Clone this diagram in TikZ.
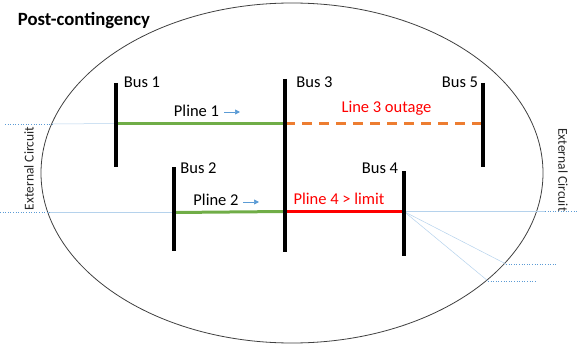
\documentclass[tikz,border=0pt]{standalone}
\usepackage{fontspec}
\setmainfont{Carlito}
\usetikzlibrary{arrows.meta}
\definecolor{busgreen}{RGB}{112,173,71}
\definecolor{outorange}{RGB}{237,125,49}
\definecolor{extblue}{RGB}{91,155,213}
\definecolor{ellgray}{RGB}{64,64,64}
\tikzset{
  busbar/.style={line width=3.5pt, black},
  greenline/.style={line width=3pt, busgreen},
  outline/.style={line width=3pt, outorange, dash pattern=on 10pt off 7pt},
  redline/.style={line width=3pt, red},
  extsolid/.style={line width=0.5pt, extblue!45},
  extdot/.style={line width=0.6pt, extblue, dotted},
  lbl/.style={font=\fontsize{16.5}{18}\selectfont, inner sep=0pt},
  flowarrow/.style={line width=0.7pt, extblue, -{Triangle[length=5pt,width=5pt]}},
  extlbl/.style={font=\fontsize{13.5}{15}\selectfont, inner sep=0pt, text=black!85}
}
\begin{document}
\begin{tikzpicture}[x=1pt,y=-1pt]
\useasboundingbox (0,0) rectangle (579,345);
% boundary
\draw[ellgray, line width=0.8pt] (292,173) ellipse [x radius=251, y radius=170];
% title
\node[font=\fontsize{18.7}{20}\selectfont\bfseries, inner sep=0pt] (title) at (84,21) {Post-contingency};
% bus coordinates
\coordinate (b1t) at (116,83); \coordinate (b1b) at (116,167);
\coordinate (b2t) at (174,167); \coordinate (b2b) at (174,251);
\coordinate (b3t) at (285,79); \coordinate (b3b) at (285,252);
\coordinate (b4t) at (404,171); \coordinate (b4b) at (404,256);
\coordinate (b5t) at (483,83); \coordinate (b5b) at (483,167);
% line endpoints on buses
\coordinate (p1a) at (116,123.5); \coordinate (p1b) at (285,123.5);
\coordinate (p3b) at (483,123.5);
\coordinate (p2a) at (174,212.5); \coordinate (p2b) at (285,211.5);
\coordinate (p4b) at (404,211.5);
% external connections
\coordinate (eL1d) at (5,124); \coordinate (eL1s) at (52,124);
\coordinate (eL2d) at (0,212.5); \coordinate (eL2s) at (50,212.5);
\coordinate (eR1s) at (545,211.5); \coordinate (eR1d) at (579,211.5);
\coordinate (eR2s) at (506,264); \coordinate (eR2d) at (556,264);
\coordinate (eR3s) at (488,281); \coordinate (eR3d) at (536,281);
\draw[extdot] (eL1d) -- (eL1s);
\draw[extsolid] (eL1s) -- (p1a);
\draw[extdot] (eL2d) -- (eL2s);
\draw[extsolid] (eL2s) -- (p2a);
\draw[extsolid] (p4b) -- (eR1s);
\draw[extdot] (eR1s) -- (eR1d);
\draw[extsolid] (p4b) -- (eR2s);
\draw[extdot] (eR2s) -- (eR2d);
\draw[extsolid] (p4b) -- (eR3s);
\draw[extdot] (eR3s) -- (eR3d);
% lines
\draw[greenline] (p1a) -- (p1b);
\draw[outline] (p1b) -- (p3b);
\draw[greenline] (p2a) -- (p2b);
\draw[redline] (p2b) -- (p4b);
% buses
\draw[busbar] (b1t) -- (b1b);
\draw[busbar] (b2t) -- (b2b);
\draw[busbar] (b3t) -- (b3b);
\draw[busbar] (b4t) -- (b4b);
\draw[busbar] (b5t) -- (b5b);
% bus labels
\node[lbl] (l1) at (142,82) {Bus 1};
\node[lbl] (l2) at (198.5,168) {Bus 2};
\node[lbl] (l3) at (314.5,82) {Bus 3};
\node[lbl] (l4) at (380,168) {Bus 4};
\node[lbl] (l5) at (460,82) {Bus 5};
% line labels
\node[lbl] (pl1) at (196.5,111) {Pline 1};
\node[lbl] (pl2) at (216,200) {Pline 2};
\node[lbl, text=red] (ol3) at (386.5,108) {Line 3 outage};
\node[lbl, text=red] (pl4) at (339,198.5) {Pline 4 > limit};
\coordinate (a1s) at (224,112); \coordinate (a1e) at (240,112);
\coordinate (a2s) at (243,202); \coordinate (a2e) at (259,202);
\draw[flowarrow] (a1s) -- (a1e);
\draw[flowarrow] (a2s) -- (a2e);
% external circuit labels
\node[extlbl, rotate=90] (ecL) at (29,168.5) {External Circuit};
\node[extlbl, rotate=-90] (ecR) at (563,170) {External Circuit};
\end{tikzpicture}
\end{document}
